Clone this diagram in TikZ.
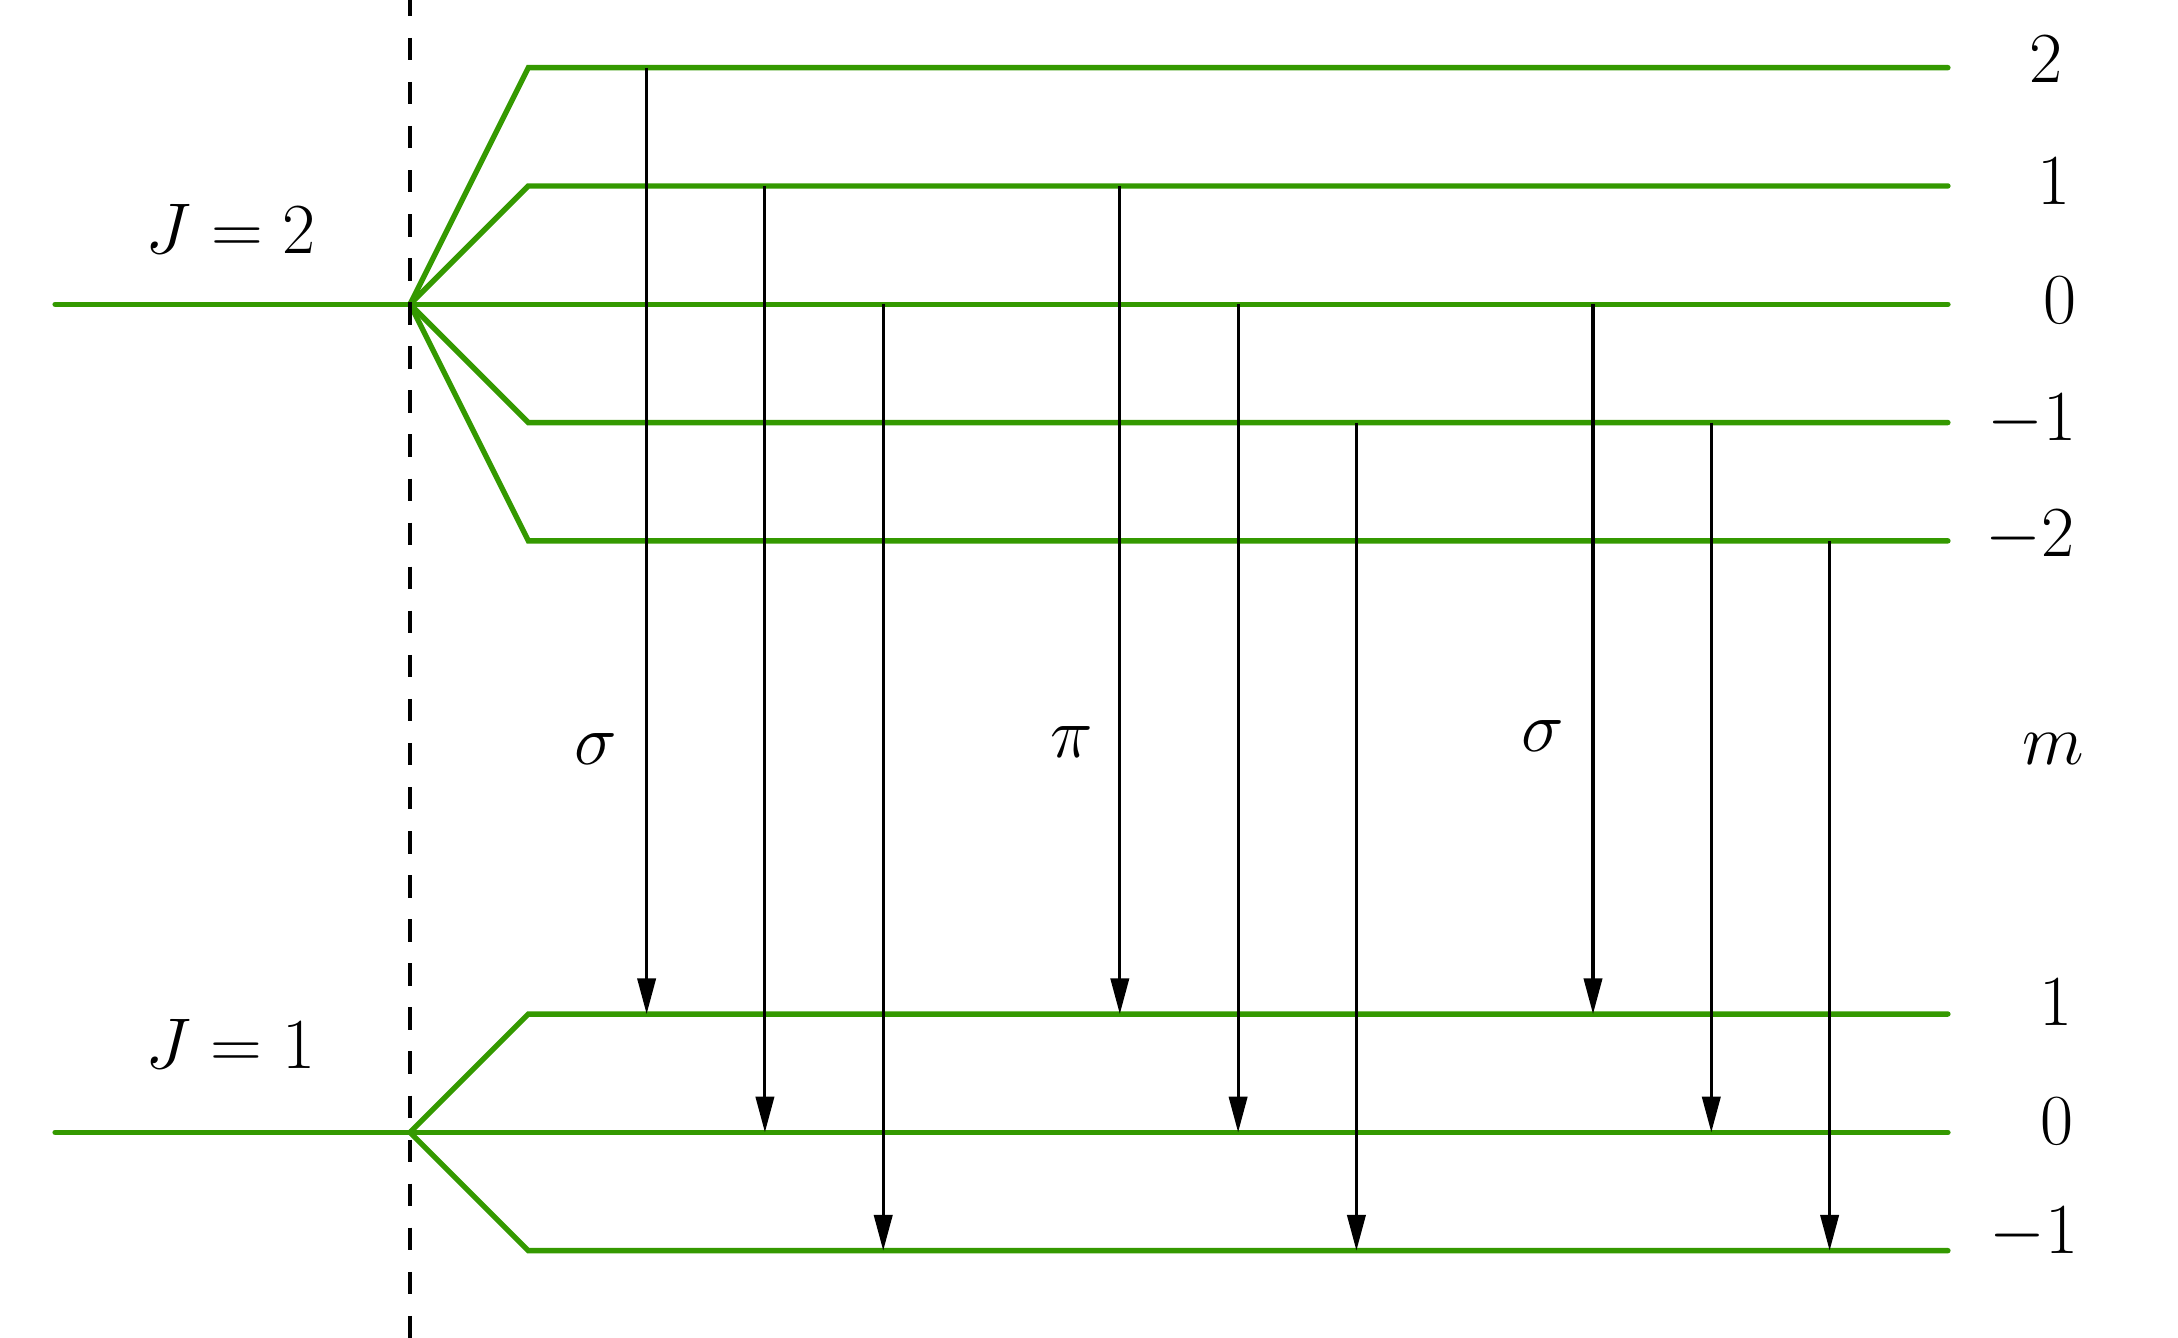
\documentclass[tikz,border=0pt]{standalone}
\usetikzlibrary{arrows.meta}
\definecolor{lvgreen}{RGB}{52,153,0}
\begin{document}
\begin{tikzpicture}[
  level/.style={draw=lvgreen, line width=1.3pt, line cap=round, line join=miter},
  trans/.style={draw=black, line width=0.75pt, -{Triangle[length=8.6pt,width=4.4pt]}},
  guide/.style={draw=black, line width=0.75pt, dash pattern=on 5.4pt off 5.2pt},
  lbl/.style={font=\LARGE, inner sep=0pt}
]
\clip (-0.466,-0.738) rectangle (17.945,10.572);
% split points
\coordinate (S2) at (3,8);
\coordinate (S1) at (3,1);
\coordinate (L2) at (0,8);
\coordinate (L1) at (0,1);
% J=2 levels
\foreach \m/\y in {p2/10, p1/9, z/8, m1/7, m2/6} {
  \coordinate (U\m a) at (4,\y);
  \coordinate (U\m e) at (16,\y);
}
% J=1 levels
\foreach \m/\y in {p1/2, z/1, m1/0} {
  \coordinate (D\m a) at (4,\y);
  \coordinate (D\m e) at (16,\y);
}
\draw[level] (L2) -- (S2);
\draw[level] (L1) -- (S1);
\foreach \m in {p2,p1,z,m1,m2} \draw[level] (S2) -- (U\m a) -- (U\m e);
\foreach \m in {p1,z,m1} \draw[level] (S1) -- (D\m a) -- (D\m e);
% dashed guide
\coordinate (dtop) at (3,10.625);
\coordinate (dbot) at (3,-0.9);
\draw[guide] (dtop) -- (dbot);
% transitions
\foreach \x/\u/\d in {5/10/2, 6/9/1, 7/8/0, 9/9/2, 10/8/1, 11/7/0, 13/8/2, 14/7/1, 15/6/0} {
  \coordinate (t\x s) at (\x,\u);
  \coordinate (t\x e) at (\x,\d);
  \draw[trans] (t\x s) -- (t\x e);
}
% labels
\node[lbl] (J2) at (1.485,8.64) {$J=2$};
\node[lbl] (J1) at (1.48,1.746) {$J=1$};
\node[lbl] (mp2) at (16.83,10.07) {$2$};
\node[lbl] (mp1) at (16.90,9.04) {$1$};
\node[lbl] (mz) at (16.95,8.03) {$0$};
\node[lbl] (mm1) at (16.71,7.02) {$-1$};
\node[lbl] (mm2) at (16.69,6.04) {$-2$};
\node[lbl] (np1) at (16.91,2.10) {$1$};
\node[lbl] (nz) at (16.92,1.09) {$0$};
\node[lbl] (nm1) at (16.73,0.146) {$-1$};
\node[lbl] (mlab) at (16.89,4.243) {$m$};
\node[lbl] (sig1) at (4.568,4.24) {$\sigma$};
\node[lbl] (pi) at (8.59,4.296) {$\pi$};
\node[lbl] (sig2) at (12.576,4.35) {$\sigma$};
\end{tikzpicture}
\end{document}
